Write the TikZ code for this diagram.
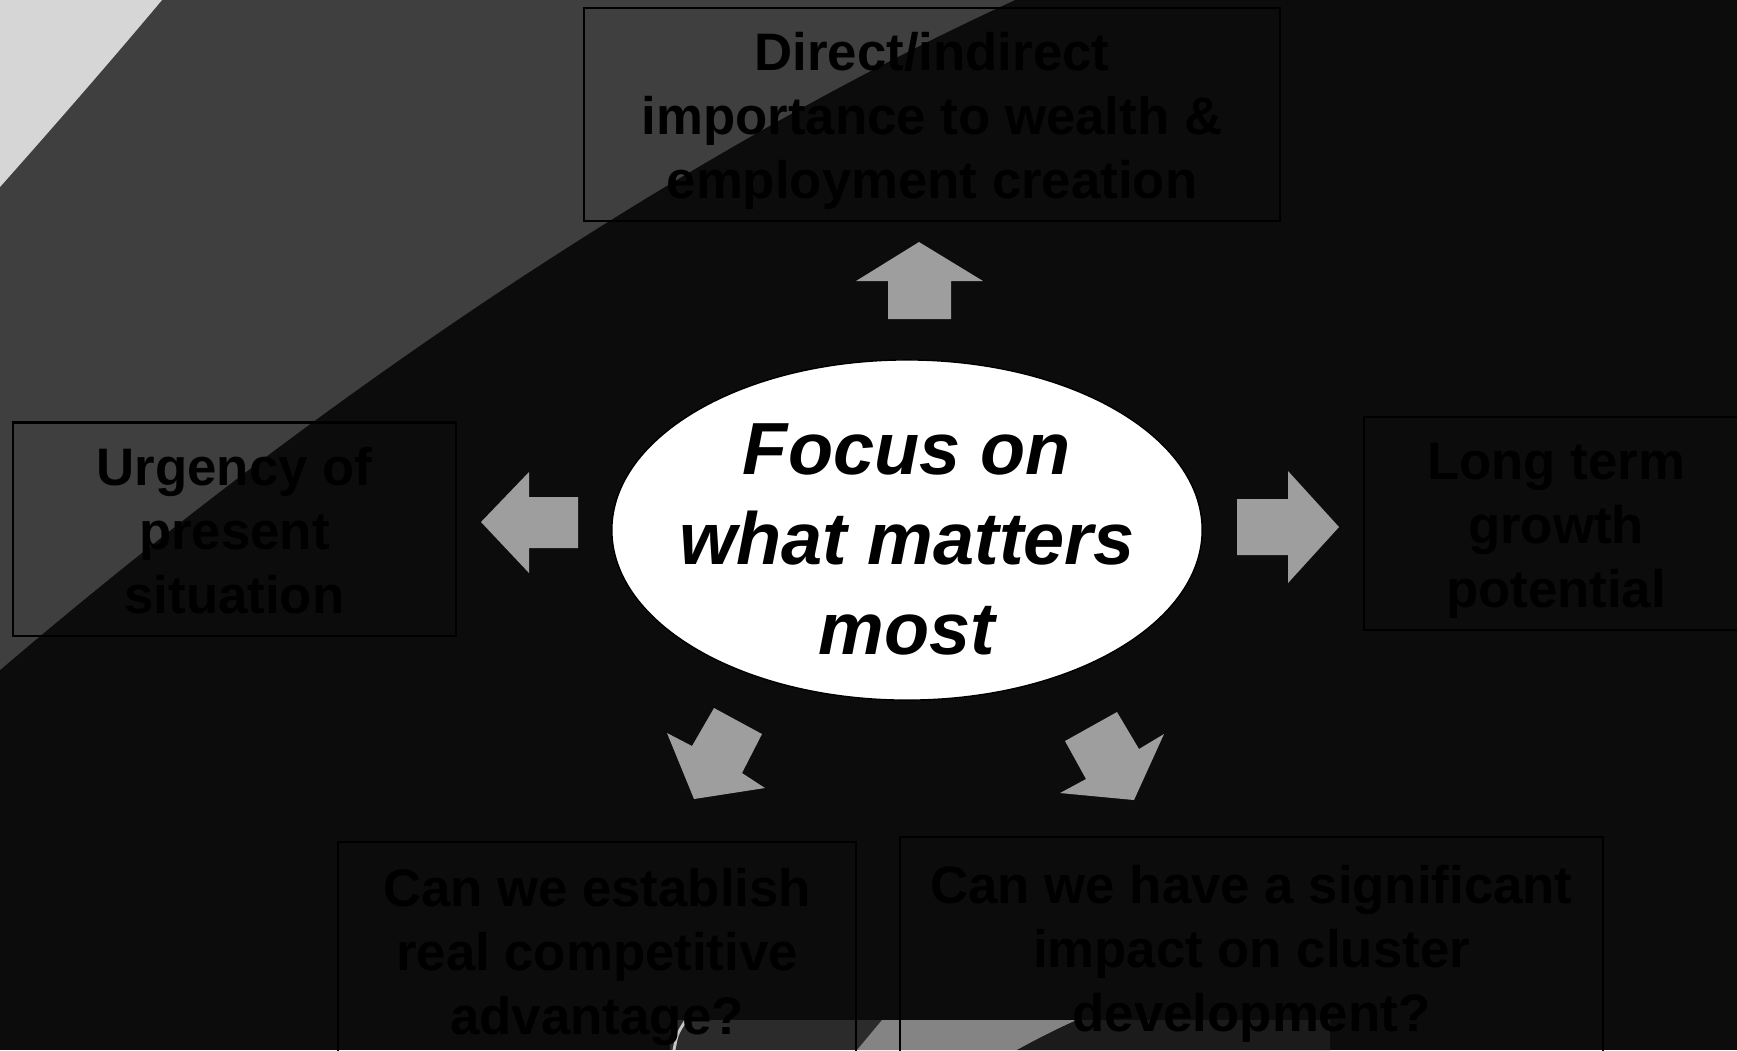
\documentclass[tikz,border=0pt]{standalone}
\usepackage{fontspec}
\setmainfont{Liberation Sans}
\usetikzlibrary{shapes.geometric}

\definecolor{bgdark}{RGB}{12,12,12}
\definecolor{bandgray}{RGB}{63,63,63}
\definecolor{cornergray}{RGB}{214,214,214}
\definecolor{arrowgray}{RGB}{158,158,158}
\definecolor{stripgray}{RGB}{43,43,43}
\definecolor{striplight}{RGB}{132,132,132}
\definecolor{stripdark}{RGB}{27,27,27}

\begin{document}
\begin{tikzpicture}[x=0.01cm, y=-0.01cm,
		box/.style = {draw=black, line width=0.6pt, rectangle, align=center, inner sep=0pt, minimum height=2.13cm, font=\fontsize{15}{18.2}\selectfont\bfseries,
			execute at begin node={\rule{0pt}{1.82cm}}, execute at end node={\rule[-0.14cm]{0pt}{0.14cm}}},
		blockarrow/.style = {fill=arrowgray}]
	\useasboundingbox (0,0) rectangle (1737,1050);
	\clip (0,0) rectangle (1737,1050);
	% background
	\fill[bgdark] (0,0) rectangle (1737,1050);
	\fill[bandgray] (0,0) -- (1015,0) .. controls (775,110) and (410,320) .. (0,670) -- cycle;
	\fill[cornergray] (0,0) -- (162,0) .. controls (110,62) and (55,125) .. (0,187) -- cycle;
	% strip at the bottom edge
	\fill[stripgray] (670,1020) rectangle (1330,1050);
	\fill[striplight] (857,1050) -- (882,1020) -- (1077,1020) .. controls (1050,1032) and (1030,1043) .. (1017,1050) -- cycle;
	\fill[stripdark] (1017,1050) .. controls (1030,1043) and (1050,1032) .. (1077,1020) -- (1330,1020) -- (1330,1050) -- cycle;
	\draw[gray!45, line width=0.8pt] (686,1020) .. controls (677,1034) .. (674,1050);

	\node[ellipse, fill=white, draw=black, minimum width=5.9cm, minimum height=3.4cm, inner sep=0pt] (focus) at (907,530) {};
	\node[align=center, yshift=-0.09cm, font=\fontsize{21}{25.6}\selectfont\bfseries\itshape] (focustext) at (focus.center) {Focus on\\what matters\\most};

	\node[box, minimum width=6.96cm] (wealth) at (932,114.5) {Direct/indirect\\importance to wealth \&\\employment creation};
	\node[box, minimum width=4.43cm] (urgency) at (234.5,529) {Urgency of\\present\\situation};
	\node[box, minimum width=3.84cm] (growth) at (1556,523.5) {Long term\\growth\\potential};
	\node[box, minimum width=5.18cm, minimum height=2.16cm] (advantage) at (597,950) {Can we establish\\real competitive\\advantage?};
	\node[box, minimum width=7.03cm, minimum height=2.2cm] (impact) at (1251.5,947) {Can we have a significant\\impact on cluster\\development?};

	\fill[blockarrow] (919,242) -- (983,281) -- (951,281) -- (951,319) -- (888,319) -- (888,281) -- (856,281) -- cycle;
	\fill[blockarrow] (481,522) -- (529,472) -- (529,497) -- (578,497) -- (578,548) -- (529,548) -- (529,573) -- cycle;
	\fill[blockarrow] (1339,527) -- (1288,583) -- (1288,555) -- (1237,555) -- (1237,499) -- (1288,499) -- (1288,471) -- cycle;
	\fill[blockarrow] (714,708) -- (762,734) -- (742,773) -- (765,788) -- (694,799) -- (667,733) -- (692,746) -- cycle;
	\fill[blockarrow] (1117,712) -- (1065,741) -- (1086,779) -- (1060,793) -- (1134,800) -- (1164,734) -- (1139,749) -- cycle;
\end{tikzpicture}
\end{document}
